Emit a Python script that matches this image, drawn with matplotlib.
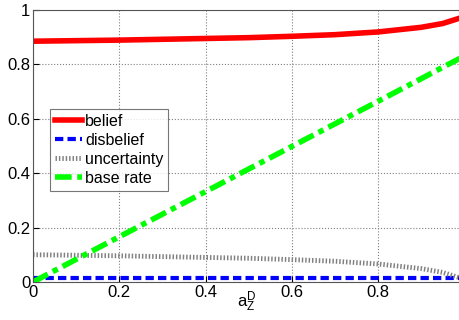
import matplotlib
matplotlib.use('Agg')
import matplotlib.pyplot as plt
import numpy as np

plt.rcParams['font.family'] = ['Liberation Sans', 'DejaVu Sans']
plt.rcParams['mathtext.fontset'] = 'custom'
plt.rcParams['mathtext.rm'] = 'Liberation Sans'
plt.rcParams['mathtext.it'] = 'Liberation Sans'

# values
a = [0.0, 0.1, 0.2, 0.3, 0.4, 0.5, 0.6, 0.7, 0.8, 0.9, 0.95, 0.99]
belief = [0.885, 0.887, 0.889, 0.892, 0.895, 0.898, 0.903, 0.909, 0.919, 0.936, 0.95, 0.97]
disbelief = [0.015] * 12
uncertainty = [0.100, 0.098, 0.096, 0.093, 0.090, 0.087, 0.082, 0.076, 0.066, 0.049, 0.035, 0.015]
base_rate = [0.0, 0.083, 0.166, 0.249, 0.332, 0.415, 0.498, 0.581, 0.664, 0.747, 0.789, 0.822]

fig = plt.figure(figsize=(4.59, 3.2), dpi=100)
ax = fig.add_axes([0.072, 0.119, 0.93, 0.85])

ax.plot(a, belief, color='red', lw=4, label='belief')
ax.plot(a, disbelief, color='blue', lw=3, ls=(0, (2, 1)), label='disbelief')
ax.plot(a, uncertainty, color='gray', lw=3.5, ls=(0, (0.3, 0.4)), label='uncertainty')
ax.plot(a, base_rate, color=(0, 1, 0), lw=4, ls=(0, (3, 1, 1, 1)), label='base rate')

ax.set_xlim(0, 0.99)
ax.set_ylim(0, 1)
ax.set_xticks([0, 0.2, 0.4, 0.6, 0.8])
ax.set_xticklabels(['0', '0.2', '0.4', '0.6', '0.8'])
ax.set_yticks([0, 0.2, 0.4, 0.6, 0.8, 1])
ax.set_yticklabels(['0', '0.2', '0.4', '0.6', '0.8', '1'])
ax.tick_params(direction='in', labelsize=12, length=4, pad=2)
ax.grid(True, ls=':', color='gray', lw=0.8)
for s in ax.spines.values():
    s.set_color('#555555')

ax.set_xlabel('$a_Z^D$', fontsize=12, va='top')
ax.xaxis.set_label_coords(0.5, -0.03)

leg = ax.legend(loc='upper left', bbox_to_anchor=(0.04, 0.635), fontsize=11.5, fancybox=False,
                edgecolor='#555555', handlelength=1.7, handletextpad=0.2, borderpad=0.3,
                labelspacing=0.25, borderaxespad=0)
leg.get_frame().set_linewidth(0.8)

fig.savefig('out.png', dpi=100)
